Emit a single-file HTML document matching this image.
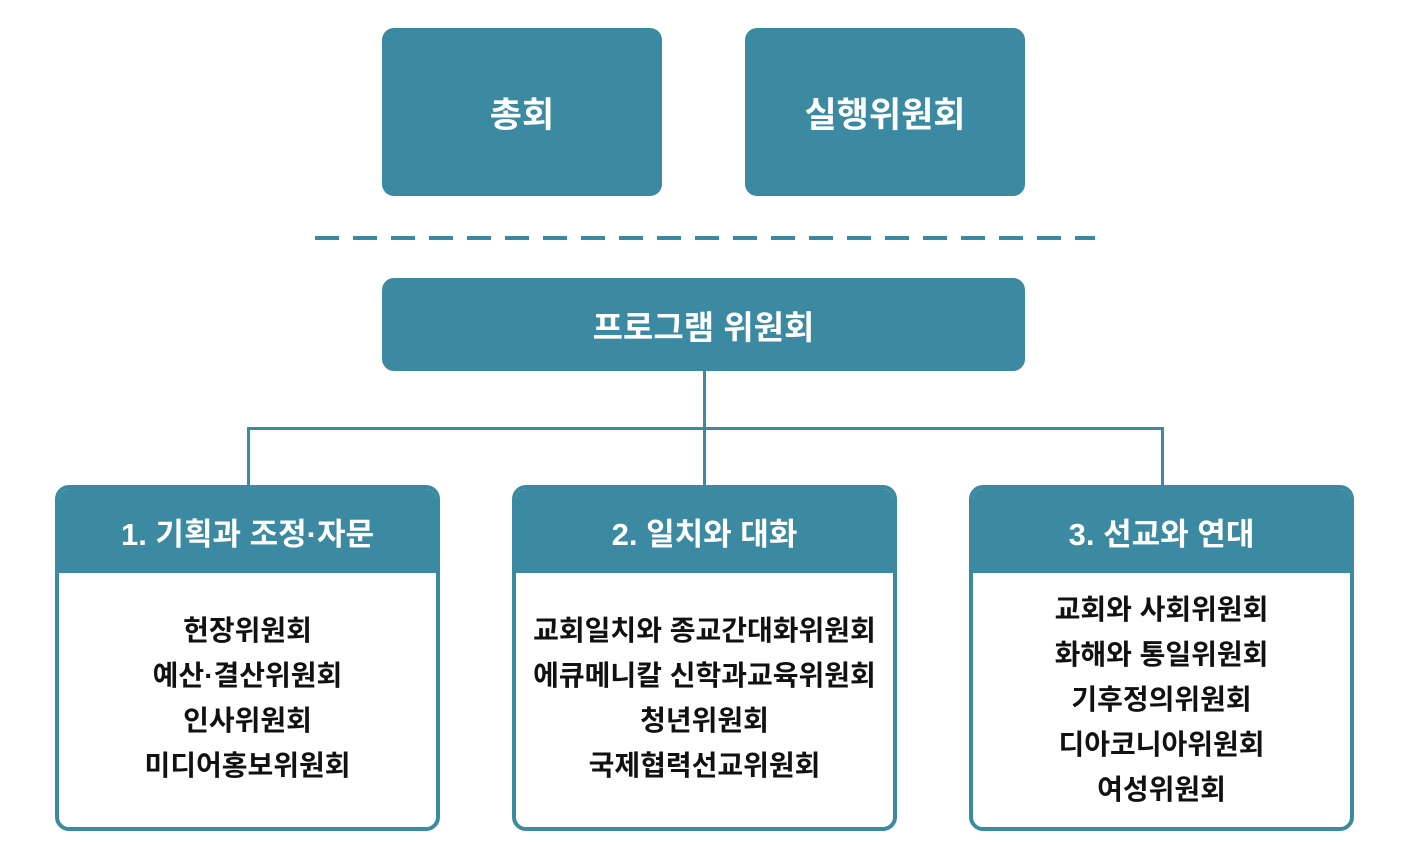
<!DOCTYPE html>
<html><head><meta charset="utf-8"><style>
body{margin:0;width:1408px;height:864px;background:#fff;position:relative;overflow:hidden;font-family:"Liberation Sans","Noto Sans CJK KR",sans-serif}
.t{position:absolute;background:#3b8aa1;border-radius:12px;color:#fff;font-weight:bold;display:flex;align-items:center;justify-content:center}
.b{position:absolute;top:485px;width:377px;height:338px;border:4px solid #3b8aa1;border-radius:14px;background:#fff;overflow:hidden}
.h{height:84px;background:#3b8aa1;color:#fff;font-weight:bold;font-size:31px;display:flex;align-items:center;justify-content:center}
.l{text-align:center;font-size:28px;line-height:45px;color:#111;font-weight:bold}
.ln{position:absolute;background:#3b8aa1}
</style></head><body>
<div class="t" style="left:382px;top:28px;width:280px;height:168px;font-size:35px">총회</div>
<div class="t" style="left:745px;top:28px;width:280px;height:168px;font-size:35px">실행위원회</div>
<div style="position:absolute;left:315px;top:236px;width:780px;height:4px;background:repeating-linear-gradient(90deg,#3b8aa1 0 24px,transparent 24px 38px)"></div>
<div class="t" style="left:382px;top:278px;width:643px;height:93px;font-size:33px">프로그램 위원회</div>
<div class="ln" style="left:703px;top:371px;width:3px;height:58px"></div>
<div class="ln" style="left:247px;top:427px;width:917px;height:3px"></div>
<div class="ln" style="left:247px;top:427px;width:3px;height:60px"></div>
<div class="ln" style="left:703px;top:427px;width:3px;height:60px"></div>
<div class="ln" style="left:1161px;top:427px;width:3px;height:60px"></div>
<div class="b" style="left:55px"><div class="h">1. 기획과 조정·자문</div><div class="l" style="padding-top:35px">헌장위원회<br>예산·결산위원회<br>인사위원회<br>미디어홍보위원회</div></div>
<div class="b" style="left:512px"><div class="h">2. 일치와 대화</div><div class="l" style="padding-top:35px">교회일치와 종교간대화위원회<br>에큐메니칼 신학과교육위원회<br>청년위원회<br>국제협력선교위원회</div></div>
<div class="b" style="left:969px"><div class="h">3. 선교와 연대</div><div class="l" style="padding-top:14px">교회와 사회위원회<br>화해와 통일위원회<br>기후정의위원회<br>디아코니아위원회<br>여성위원회</div></div>
</body></html>
